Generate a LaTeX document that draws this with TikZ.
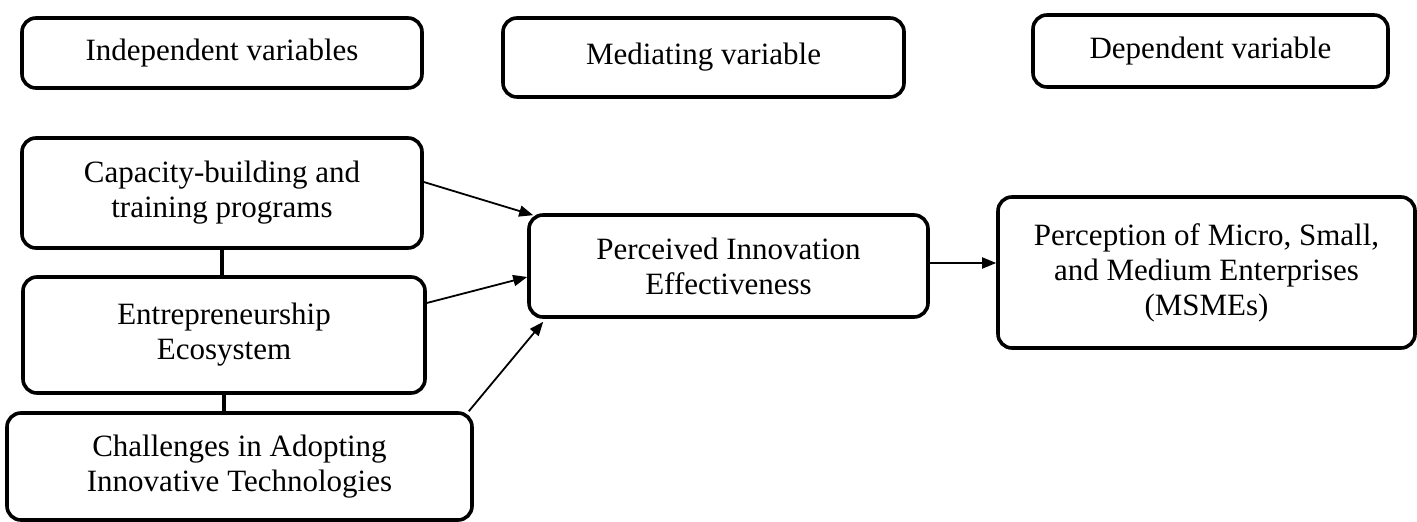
\documentclass[tikz,border=0pt]{standalone}
\usepackage{fontspec}
\setmainfont{Liberation Serif}
\usetikzlibrary{arrows.meta,calc}
\begin{document}
\begin{tikzpicture}[x=0.5pt,y=-0.5pt,
  box/.style={draw, line width=1.8pt, rounded corners=7pt, align=center,
    font=\fontsize{15.5}{17.5}\selectfont, inner sep=0pt},
  arr/.style={line width=0.9pt, -{Triangle[length=7pt,width=5.5pt]}},
  link/.style={line width=2pt}]
\useasboundingbox (0,0) rectangle (1417,522);
% header boxes
\node[box, minimum width=200pt, minimum height=35pt] (ind) at (222,53) {Independent variables};
\node[box, minimum width=200.5pt, minimum height=39.5pt] (med) at (703.5,57.5) {Mediating variable};
\node[box, minimum width=177.5pt, minimum height=36pt] (dep) at (1210.5,51) {Dependent variable};
% independent variables
\node[box, minimum width=200pt, minimum height=55pt] (cap) at (222,193) {Capacity-building and\\training programs};
\node[box, minimum width=201pt, minimum height=58pt] (ent) at (224,335) {Entrepreneurship\\Ecosystem};
\node[box, minimum width=232.5pt, minimum height=53.5pt] (cha) at (239.5,466.5) {Challenges in Adopting\\Innovative Technologies};
% mediating
\node[box, minimum width=199.5pt, minimum height=51pt] (per) at (728.5,266) {Perceived Innovation\\Effectiveness};
% dependent
\node[box, minimum width=208.5pt, minimum height=75.5pt] (msm) at (1206.5,272.5) {Perception of Micro, Small,\\and Medium Enterprises\\(MSMEs)};
% links
\draw[link] (cap.south) -- (cap.south |- ent.north);
\draw[link] (ent.south) -- (ent.south |- cha.north);
% arrows
\draw[arr] ([yshift=5.5pt]cap.east) -- ([xshift=3pt,yshift=-1pt]per.north west);
\draw[arr] ([yshift=16pt]ent.east) -- ([yshift=-5.5pt]per.west);
\draw[arr] ([xshift=-2.5pt]cha.north east) -- ([xshift=8pt,yshift=-1.5pt]per.south west);
\draw[arr] ([yshift=1.5pt]per.east) -- ([yshift=1.5pt]per.east -| msm.west);
\end{tikzpicture}
\end{document}
